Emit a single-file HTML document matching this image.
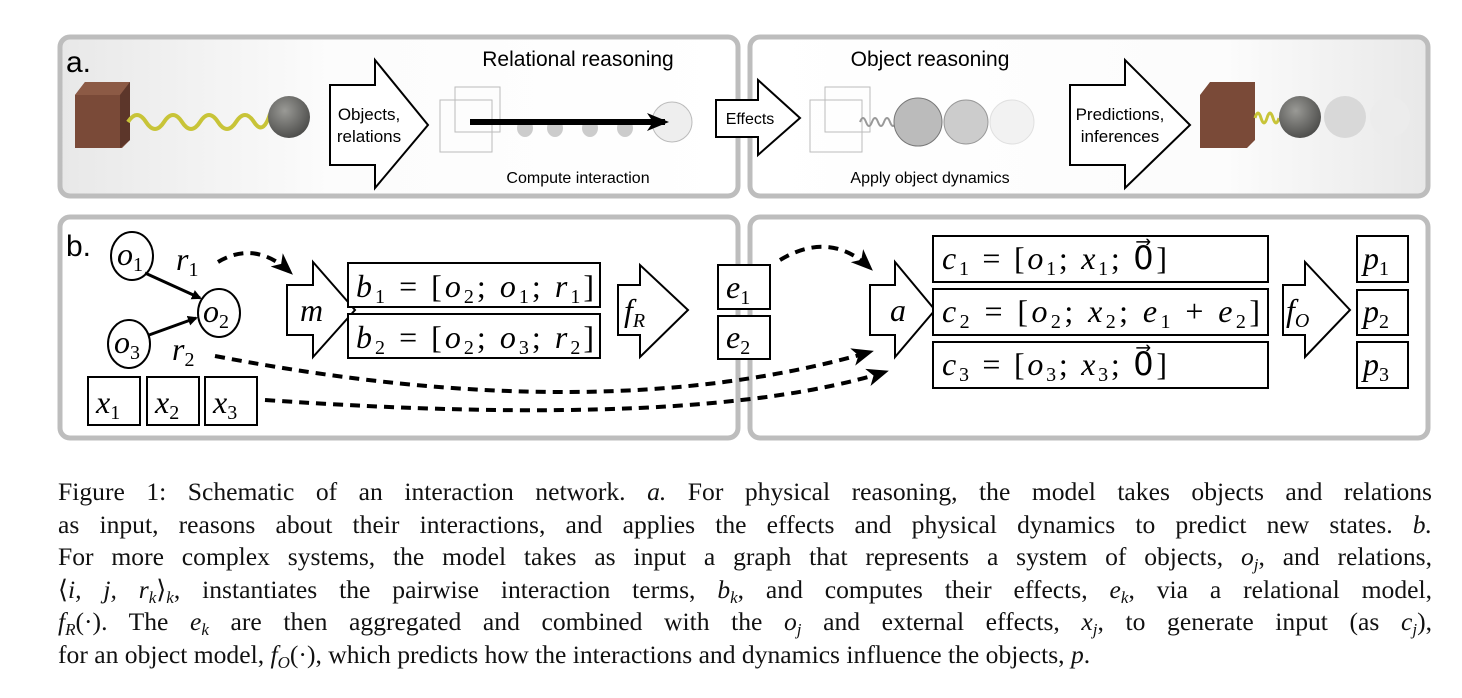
<!DOCTYPE html>
<html><head><meta charset="utf-8">
<style>
body{margin:0;background:#fff;width:1462px;height:698px;overflow:hidden;}
svg{position:absolute;left:0;top:0;}
.s{font-family:"Liberation Sans",sans-serif;}
.m{font-family:"Liberation Serif",serif;font-style:italic;}
#cap{position:absolute;left:58px;top:476px;width:1374px;font-family:"Liberation Serif",serif;font-size:25.6px;color:#111;}
#cap div{height:32.6px;line-height:32.6px;text-align:justify;text-align-last:justify;white-space:nowrap;}
#cap div.last{text-align-last:left;}
#cap i{font-style:italic;}
#cap sub{font-size:17px;line-height:0;vertical-align:-5px;}
</style></head><body>
<svg width="1462" height="470">
<defs>
<radialGradient id="ball" cx="40%" cy="35%" r="70%"><stop offset="0" stop-color="#9a9a96"/><stop offset="1" stop-color="#4a4a48"/></radialGradient>
<linearGradient id="bgL" x1="0" x2="1"><stop offset="0" stop-color="#e8e8e8"/><stop offset="0.4" stop-color="#fcfcfc"/><stop offset="1" stop-color="#fff"/></linearGradient>
<linearGradient id="bgR" x1="0" x2="1"><stop offset="0" stop-color="#fff"/><stop offset="0.7" stop-color="#fcfcfc"/><stop offset="1" stop-color="#e8e8e8"/></linearGradient>
<marker id="ah" markerWidth="10" markerHeight="10" refX="8" refY="5" orient="auto" markerUnits="userSpaceOnUse"><path d="M0,0 L10,5 L0,10 Z" fill="#000"/></marker>
<marker id="ah2" markerWidth="22" markerHeight="18" refX="18" refY="9" orient="auto" markerUnits="userSpaceOnUse"><path d="M0,0 L22,9 L0,18 L6,9 Z" fill="#000"/></marker>
</defs>
<rect x="60" y="37" width="678" height="159" rx="10" fill="url(#bgL)" stroke="#bdbdbd" stroke-width="5"/>
<rect x="750" y="37" width="678" height="159" rx="10" fill="url(#bgR)" stroke="#bdbdbd" stroke-width="5"/>
<text x="66" y="72" class="s" font-size="30">a.</text>
<g><polygon points="75,95 85,82 130,82 130,140 122,148 75,148" fill="#7a4a38"/><polygon points="75,95 85,82 130,82 120,95" fill="#8c5a45"/><polygon points="120,95 130,82 130,140 120,148" fill="#5c362a"/></g>
<path d="M128,122 q9,-14 18,0 t18,0 t18,0 t18,0 t18,0 t18,0 t18,0 t16,-8" fill="none" stroke="#c8c438" stroke-width="4"/>
<circle cx="289" cy="117" r="21" fill="url(#ball)"/>
<polygon points="330,85 375,85 375,60 428,125 375,188 375,165 330,165" fill="#fff" stroke="#000" stroke-width="2"/>
<text x="369" y="120" class="s" font-size="17" text-anchor="middle">Objects,</text>
<text x="369" y="142" class="s" font-size="17" text-anchor="middle">relations</text>
<text x="578" y="66" class="s" font-size="21" text-anchor="middle">Relational reasoning</text>
<g stroke="#bbb" fill="none" stroke-width="1"><rect x="440" y="100" width="52" height="52"/><rect x="455" y="87" width="45" height="45"/></g>
<g fill="#ccc"><ellipse cx="525" cy="128" rx="8" ry="9"/><ellipse cx="555" cy="128" rx="8" ry="9"/><ellipse cx="590" cy="128" rx="8" ry="9"/><ellipse cx="625" cy="128" rx="8" ry="9"/></g>
<circle cx="672" cy="122" r="20" fill="#eee" stroke="#bbb"/>
<line x1="470" y1="122" x2="665" y2="122" stroke="#000" stroke-width="6" marker-end="url(#ah2)"/>
<text x="578" y="183" class="s" font-size="16" text-anchor="middle">Compute interaction</text>
<polygon points="716,100 758,100 758,80 800,118 758,155 758,137 716,137" fill="#fff" stroke="#000" stroke-width="2"/>
<text x="750" y="124" class="s" font-size="16" text-anchor="middle">Effects</text>
<text x="930" y="66" class="s" font-size="21" text-anchor="middle">Object reasoning</text>
<g stroke="#bbb" fill="none"><rect x="810" y="100" width="52" height="52"/><rect x="825" y="87" width="45" height="45"/></g>
<path d="M860,122 q3,-8 6,0 t6,0 t6,0 t6,0 t6,0 t6,0" fill="none" stroke="#999" stroke-width="2"/>
<circle cx="918" cy="122" r="24" fill="#bbb" stroke="#777"/>
<circle cx="966" cy="122" r="22" fill="#ccc" stroke="#999"/>
<circle cx="1012" cy="122" r="22" fill="#f2f2f2" stroke="#e0e0e0"/>
<text x="930" y="183" class="s" font-size="16" text-anchor="middle">Apply object dynamics</text>
<polygon points="1070,85 1125,85 1125,60 1190,125 1125,188 1125,165 1070,165" fill="#fff" stroke="#000" stroke-width="2"/>
<text x="1120" y="120" class="s" font-size="17" text-anchor="middle">Predictions,</text>
<text x="1120" y="142" class="s" font-size="17" text-anchor="middle">inferences</text>
<polygon points="1200,95 1210,82 1255,82 1255,140 1247,148 1200,148" fill="#7a4a38"/>
<path d="M1255,118 q3,-10 6,0 t6,0 t6,0 t6,0" fill="none" stroke="#c8c438" stroke-width="3"/>
<circle cx="1300" cy="117" r="21" fill="url(#ball)"/>
<circle cx="1345" cy="117" r="21" fill="#d8d8d8"/>
<circle cx="1390" cy="117" r="20" fill="#ececec"/>
<rect x="60" y="217" width="678" height="221" rx="10" fill="#fff" stroke="#bdbdbd" stroke-width="5"/>
<rect x="750" y="217" width="678" height="221" rx="10" fill="#fff" stroke="#bdbdbd" stroke-width="5"/>
<text x="66" y="256" class="s" font-size="30">b.</text>
<g fill="#fff" stroke="#000" stroke-width="2">
<ellipse cx="132" cy="256" rx="21" ry="24"/>
<ellipse cx="219" cy="313" rx="21" ry="24"/>
<ellipse cx="129" cy="344" rx="21" ry="24"/>
</g>
<line x1="145" y1="273" x2="200" y2="298" stroke="#000" stroke-width="3" marker-end="url(#ah)"/>
<line x1="149" y1="335" x2="196" y2="318" stroke="#000" stroke-width="3" marker-end="url(#ah)"/>
<g class="m" font-size="32">
<text x="117" y="265">o<tspan font-size="20" dy="6" font-style="normal">1</tspan></text>
<text x="203" y="322">o<tspan font-size="20" dy="6" font-style="normal">2</tspan></text>
<text x="114" y="353">o<tspan font-size="20" dy="6" font-style="normal">3</tspan></text>
<text x="176" y="270">r<tspan font-size="20" dy="6" font-style="normal">1</tspan></text>
<text x="172" y="360">r<tspan font-size="20" dy="6" font-style="normal">2</tspan></text>
</g>
<g fill="#fff" stroke="#000" stroke-width="2">
<rect x="88" y="377" width="52" height="48"/>
<rect x="147" y="377" width="52" height="48"/>
<rect x="205" y="377" width="52" height="48"/>
<polygon points="287,285 313,285 313,262 355,310 313,357 313,335 287,335"/>
<rect x="348" y="263" width="252" height="44"/>
<rect x="348" y="314" width="252" height="44"/>
<polygon points="618,285 640,285 640,265 688,310 640,357 640,335 618,335"/>
<rect x="718" y="265" width="52" height="44"/>
<rect x="718" y="316" width="52" height="43"/>
<polygon points="870,285 895,285 895,262 935,310 895,357 895,335 870,335"/>
<rect x="933" y="236" width="335" height="46"/>
<rect x="933" y="289" width="335" height="46"/>
<rect x="933" y="342" width="335" height="46"/>
<polygon points="1283,285 1305,285 1305,262 1350,310 1305,357 1305,335 1283,335"/>
<rect x="1357" y="236" width="51" height="46"/>
<rect x="1357" y="290" width="51" height="45"/>
<rect x="1357" y="342" width="51" height="46"/>
</g>
<g class="m" font-size="32">
<text x="96" y="413">x<tspan font-size="20" dy="6" font-style="normal">1</tspan></text>
<text x="155" y="413">x<tspan font-size="20" dy="6" font-style="normal">2</tspan></text>
<text x="213" y="413">x<tspan font-size="20" dy="6" font-style="normal">3</tspan></text>
<text x="300" y="321">m</text>
<text x="356" y="297" textLength="238" lengthAdjust="spacing">b<tspan font-size="20" dy="6" font-style="normal">1</tspan><tspan dy="-6" font-style="normal"> = [</tspan>o<tspan font-size="20" dy="6" font-style="normal">2</tspan><tspan dy="-6" font-style="normal">; </tspan>o<tspan font-size="20" dy="6" font-style="normal">1</tspan><tspan dy="-6" font-style="normal">; </tspan>r<tspan font-size="20" dy="6" font-style="normal">1</tspan><tspan dy="-6" font-style="normal">]</tspan></text>
<text x="356" y="348" textLength="238" lengthAdjust="spacing">b<tspan font-size="20" dy="6" font-style="normal">2</tspan><tspan dy="-6" font-style="normal"> = [</tspan>o<tspan font-size="20" dy="6" font-style="normal">2</tspan><tspan dy="-6" font-style="normal">; </tspan>o<tspan font-size="20" dy="6" font-style="normal">3</tspan><tspan dy="-6" font-style="normal">; </tspan>r<tspan font-size="20" dy="6" font-style="normal">2</tspan><tspan dy="-6" font-style="normal">]</tspan></text>
<text x="624" y="321">f<tspan font-size="20" dy="6">R</tspan></text>
<text x="726" y="298">e<tspan font-size="20" dy="6" font-style="normal">1</tspan></text>
<text x="726" y="348">e<tspan font-size="20" dy="6" font-style="normal">2</tspan></text>
<text x="890" y="321">a</text>
<text x="942" y="269" textLength="225" lengthAdjust="spacing">c<tspan font-size="20" dy="6" font-style="normal">1</tspan><tspan dy="-6" font-style="normal"> = [</tspan>o<tspan font-size="20" dy="6" font-style="normal">1</tspan><tspan dy="-6" font-style="normal">; </tspan>x<tspan font-size="20" dy="6" font-style="normal">1</tspan><tspan dy="-6" font-style="normal">; 0⃗]</tspan></text>
<text x="942" y="322" textLength="318" lengthAdjust="spacing">c<tspan font-size="20" dy="6" font-style="normal">2</tspan><tspan dy="-6" font-style="normal"> = [</tspan>o<tspan font-size="20" dy="6" font-style="normal">2</tspan><tspan dy="-6" font-style="normal">; </tspan>x<tspan font-size="20" dy="6" font-style="normal">2</tspan><tspan dy="-6" font-style="normal">; </tspan>e<tspan font-size="20" dy="6" font-style="normal">1</tspan><tspan dy="-6" font-style="normal"> + </tspan>e<tspan font-size="20" dy="6" font-style="normal">2</tspan><tspan dy="-6" font-style="normal">]</tspan></text>
<text x="942" y="375" textLength="225" lengthAdjust="spacing">c<tspan font-size="20" dy="6" font-style="normal">3</tspan><tspan dy="-6" font-style="normal"> = [</tspan>o<tspan font-size="20" dy="6" font-style="normal">3</tspan><tspan dy="-6" font-style="normal">; </tspan>x<tspan font-size="20" dy="6" font-style="normal">3</tspan><tspan dy="-6" font-style="normal">; 0⃗]</tspan></text>
<text x="1286" y="321">f<tspan font-size="20" dy="6">O</tspan></text>
<text x="1363" y="269">p<tspan font-size="20" dy="6" font-style="normal">1</tspan></text>
<text x="1363" y="322">p<tspan font-size="20" dy="6" font-style="normal">2</tspan></text>
<text x="1363" y="375">p<tspan font-size="20" dy="6" font-style="normal">3</tspan></text>
</g>
<g fill="none" stroke="#000" stroke-width="4" stroke-dasharray="10,7">
<path d="M218,262 Q255,240 290,272" marker-end="url(#ah2)"/>
<path d="M780,260 Q830,230 870,268" marker-end="url(#ah2)"/>
<path d="M215,356 Q600,430 870,352" marker-end="url(#ah2)"/>
<path d="M265,400 Q700,430 885,372" marker-end="url(#ah2)"/>
</g>
</svg>
<div id="cap">
<div>Figure 1: Schematic of an interaction network. <i>a.</i> For physical reasoning, the model takes objects and relations</div>
<div>as input, reasons about their interactions, and applies the effects and physical dynamics to predict new states. <i>b.</i></div>
<div>For more complex systems, the model takes as input a graph that represents a system of objects, <i>o<sub>j</sub></i>, and relations,</div>
<div>⟨<i>i, j, r<sub>k</sub></i>⟩<sub><i>k</i></sub>, instantiates the pairwise interaction terms, <i>b<sub>k</sub></i>, and computes their effects, <i>e<sub>k</sub></i>, via a relational model,</div>
<div><i>f<sub>R</sub></i>(·). The <i>e<sub>k</sub></i> are then aggregated and combined with the <i>o<sub>j</sub></i> and external effects, <i>x<sub>j</sub></i>, to generate input (as <i>c<sub>j</sub></i>),</div>
<div class="last">for an object model, <i>f<sub>O</sub></i>(·), which predicts how the interactions and dynamics influence the objects, <i>p</i>.</div>
</div>
</body></html>
